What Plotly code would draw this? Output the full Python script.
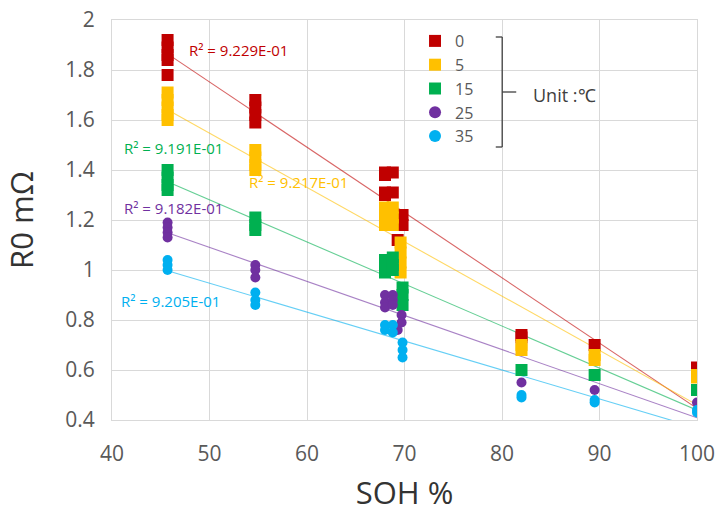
import numpy as np
import plotly.graph_objects as go

# ---------------- data ----------------
names = ["0", "5", "15", "25", "35"]
colors = ["#C00000", "#FFC000", "#00B050", "#7030A0", "#00B0F0"]
symbols = ["square", "square", "square", "circle", "circle"]

soh_0 = [45.7, 45.7, 45.7, 45.7, 45.7, 54.7, 54.7, 54.7, 54.7, 68.0, 68.0, 68.0, 68.0,
         68.8, 68.8, 69.8, 69.8, 69.3, 82.0, 82.0, 89.5, 100.0]
r0_0 = [1.92, 1.89, 1.86, 1.84, 1.78, 1.68, 1.65, 1.62, 1.59, 1.39, 1.38, 1.31, 1.30,
        1.39, 1.31, 1.22, 1.18, 1.12, 0.74, 0.73, 0.70, 0.61]

soh_5 = [45.7, 45.7, 45.7, 45.7, 45.7, 54.7, 54.7, 54.7, 54.7, 68.0, 68.0, 68.0, 68.0,
         68.8, 68.8, 68.8, 69.6, 69.6, 69.6, 69.6, 82.0, 82.0, 89.5, 89.5, 100.0, 100.0]
r0_5 = [1.71, 1.68, 1.65, 1.62, 1.60, 1.48, 1.45, 1.42, 1.40, 1.25, 1.22, 1.19, 1.18,
        1.25, 1.21, 1.18, 1.11, 1.07, 1.03, 0.99, 0.70, 0.68, 0.66, 0.64, 0.58, 0.57]

soh_15 = [45.7, 45.7, 45.7, 45.7, 54.7, 54.7, 54.7, 68.0, 68.0, 68.0, 68.8, 68.8, 68.8,
          69.8, 69.8, 69.8, 82.0, 89.5, 100.0]
r0_15 = [1.40, 1.37, 1.34, 1.32, 1.21, 1.18, 1.16, 1.04, 1.01, 0.99, 1.05, 1.02, 1.00,
         0.93, 0.90, 0.86, 0.60, 0.58, 0.52]

soh_25 = [45.7, 45.7, 45.7, 45.7, 54.7, 54.7, 54.7, 68.0, 68.0, 68.0, 68.8, 68.8, 68.8,
          69.7, 69.7, 69.3, 82.0, 89.5, 100.0]
r0_25 = [1.19, 1.17, 1.15, 1.13, 1.02, 1.00, 0.97, 0.90, 0.87, 0.85, 0.90, 0.88, 0.86,
         0.82, 0.79, 0.76, 0.55, 0.52, 0.47]

soh_35 = [45.7, 45.7, 45.7, 54.7, 54.7, 54.7, 68.0, 68.0, 68.8, 68.8, 69.8, 69.8, 69.8,
          82.0, 82.0, 89.5, 89.5, 100.0, 100.0]
r0_35 = [1.04, 1.02, 1.00, 0.91, 0.88, 0.86, 0.78, 0.76, 0.78, 0.75, 0.71, 0.68, 0.65,
         0.50, 0.49, 0.48, 0.47, 0.44, 0.43]

r2_labels = ["R² = 9.229E-01", "R² = 9.217E-01", "R² = 9.191E-01",
             "R² = 9.182E-01", "R² = 9.205E-01"]
r2_pos_x = [47.7, 53.8, 41.0, 41.0, 40.7]
r2_pos_y = [1.88, 1.352, 1.488, 1.248, 0.876]

x_ticks = [40, 50, 60, 70, 80, 90, 100]
y_ticks = [0.4, 0.6, 0.8, 1.0, 1.2, 1.4, 1.6, 1.8, 2.0]
y_tick_text = ["0.4", "0.6", "0.8", "1", "1.2", "1.4", "1.6", "1.8", "2"]

sohs = [soh_0, soh_5, soh_15, soh_25, soh_35]
r0s = [r0_0, r0_5, r0_15, r0_25, r0_35]

FONT = "Open Sans"
fig = go.Figure()

# trend lines (least squares fit of each series)
for s, r, c in zip(sohs, r0s, colors):
    k, b = np.polyfit(s, r, 1)
    xs = np.array([min(s), max(s)])
    fig.add_trace(go.Scatter(x=xs, y=k * xs + b, mode="lines",
                             line=dict(color=c, width=1.1), opacity=0.6,
                             showlegend=False, hoverinfo="skip"))

for s, r, c, n, sym in zip(sohs, r0s, colors, names, symbols):
    fig.add_trace(go.Scatter(x=s, y=r, mode="markers", name=n,
                             marker=dict(color=c, symbol=sym,
                                         size=12 if sym == "square" else 10,
                                         line=dict(width=0))))

for t, xx, yy, c in zip(r2_labels, r2_pos_x, r2_pos_y, colors):
    fig.add_annotation(x=xx, y=yy, text=t, showarrow=False, xanchor="left",
                       yanchor="middle", font=dict(family=FONT, size=15, color=c))

# unit bracket
bx = 0.667
for x0, y0, x1, y1 in [(bx, 0.9575, bx, 0.6825), (bx - 0.011, 0.9575, bx, 0.9575),
                       (bx - 0.011, 0.6825, bx, 0.6825), (bx, 0.82, bx + 0.024, 0.82)]:
    fig.add_shape(type="line", xref="paper", yref="paper", x0=x0, y0=y0, x1=x1, y1=y1,
                  line=dict(color="#404040", width=1.3))
fig.add_annotation(xref="paper", yref="paper", x=0.716, y=0.812, text="Unit :℃",
                   showarrow=False, xanchor="left", yanchor="middle",
                   font=dict(family=FONT, size=18, color="#404040"))

fig.update_layout(
    width=717, height=518,
    margin=dict(l=112, r=20, t=20, b=98, autoexpand=False),
    plot_bgcolor="white", paper_bgcolor="white",
    font=dict(family=FONT, color="#595959"),
    legend=dict(x=0.518, y=0.99, xanchor="left", yanchor="top",
                bgcolor="rgba(0,0,0,0)", font=dict(family=FONT, size=16, color="#595959"),
                itemsizing="constant", tracegroupgap=0),
    xaxis=dict(range=[40, 100], tickvals=x_ticks, showgrid=True, gridcolor="#d9d9d9",
               zeroline=False, showline=True, linecolor="#d9d9d9", mirror=True,
               automargin=False, ticklabelstandoff=15,
               tickfont=dict(size=21, color="#595959"), ticks="",
               title=dict(text="SOH %", font=dict(size=31, color="#333333"), standoff=16)),
    yaxis=dict(range=[0.4, 2.0], tickvals=y_ticks, ticktext=y_tick_text, showgrid=True,
               gridcolor="#d9d9d9", zeroline=False, showline=True, linecolor="#d9d9d9",
               mirror=True, automargin=False, ticklabelstandoff=12,
               tickfont=dict(size=21, color="#595959"), ticks="",
               title=dict(text="R0 mΩ", font=dict(size=31, color="#333333"), standoff=24)),
)

fig.write_html("out.html")
